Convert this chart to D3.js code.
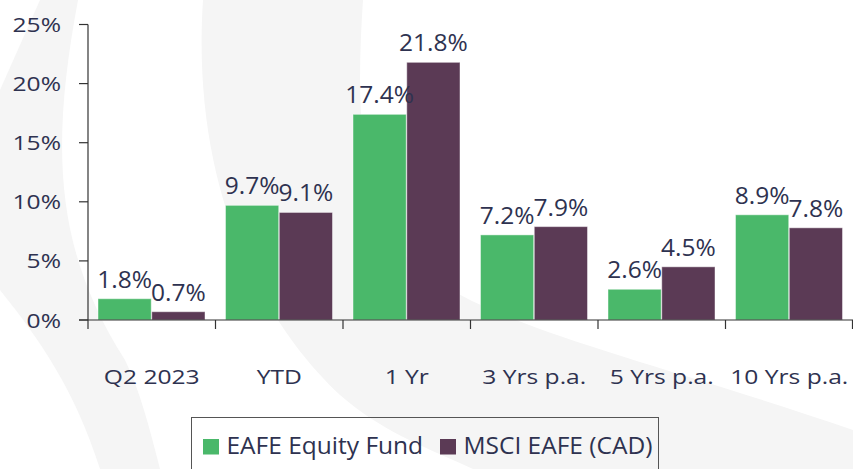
<!DOCTYPE html>
<html>
<head>
<meta charset="utf-8">
<script src="https://cdn.jsdelivr.net/npm/d3@7"></script>
<style>
  html, body { margin: 0; padding: 0; background: #fff; }
  svg { display: block; font-family: "Open Sans", "Noto Sans", sans-serif; }
</style>
</head>
<body>
<div id="chart"></div>
<script>
var categories = ["Q2 2023", "YTD", "1 Yr", "3 Yrs p.a.", "5 Yrs p.a.", "10 Yrs p.a."];
var fundValues = [1.8, 9.7, 17.4, 7.2, 2.6, 8.9];
var indexValues = [0.7, 9.1, 21.8, 7.9, 4.5, 7.8];
var seriesNames = ["EAFE Equity Fund", "MSCI EAFE (CAD)"];
var yTickValues = [0, 5, 10, 15, 20, 25];

var colors = ["#4ab86a", "#5b3a55"];
var textColor = "#2e3250";
var W = 853, H = 469;

var svg = d3.select("#chart").append("svg")
    .attr("width", W)
    .attr("height", H);

// faint watermark arcs in the background
var bg = svg.append("g").attr("fill", "#f5f5f5");
bg.append("path")
    .attr("d", "M40,0 L78,0 C50,150 55,250 125,360 C140,390 150,430 160,469 L100,469 C75,390 40,340 0,290 L0,90 Z");
bg.append("path")
    .attr("d", "M203,0 L363,0 C355,120 360,220 420,270 C500,330 650,360 853,430 L853,469 L473,469 C420,445 380,430 340,395 C270,330 190,200 203,0 Z");

var x = d3.scaleBand()
    .domain(categories)
    .range([88, 853])
    .padding(0);

var xInner = d3.scaleBand()
    .domain(seriesNames)
    .range([10, 117])
    .paddingInner(0.01);

var y = d3.scaleLinear()
    .domain([0, 25])
    .range([320, 24.5]);

var rows = categories.map(function(c, i) {
    return { cat: c, values: [fundValues[i], indexValues[i]] };
});

// bars
var groups = svg.selectAll(".group")
    .data(rows)
    .enter().append("g")
    .attr("class", "group")
    .attr("transform", function(d) { return "translate(" + x(d.cat) + ",0)"; });

groups.selectAll("rect")
    .data(function(d) { return d.values.map(function(v, j) { return { name: seriesNames[j], value: v, j: j }; }); })
    .enter().append("rect")
    .attr("x", function(d) { return xInner(d.name); })
    .attr("y", function(d) { return y(d.value); })
    .attr("width", xInner.bandwidth())
    .attr("height", function(d) { return y(0) - y(d.value); })
    .attr("fill", function(d) { return colors[d.j]; })
    .attr("stroke", "rgba(255,255,255,0.45)")
    .attr("stroke-width", 1);

// value labels
groups.selectAll("text.val")
    .data(function(d) { return d.values.map(function(v, j) { return { name: seriesNames[j], value: v }; }); })
    .enter().append("text")
    .attr("class", "val")
    .attr("x", function(d) { return xInner(d.name) + xInner.bandwidth() / 2; })
    .attr("y", function(d) { return y(d.value) - 11; })
    .attr("text-anchor", "middle")
    .style("font-size", "24.5px")
    .style("fill", textColor)
    .text(function(d) { return d.value.toFixed(1) + "%"; });

// axes
var axisColor = "#333";
svg.append("line")
    .attr("x1", 88).attr("x2", 88)
    .attr("y1", y(25)).attr("y2", y(0))
    .attr("stroke", axisColor).attr("stroke-width", 1.2);
svg.append("line")
    .attr("x1", 79).attr("x2", W)
    .attr("y1", y(0)).attr("y2", y(0))
    .attr("stroke", axisColor).attr("stroke-width", 1.2);

svg.selectAll(".ytick")
    .data(yTickValues)
    .enter().append("line")
    .attr("x1", 79).attr("x2", 88)
    .attr("y1", function(d) { return y(d); })
    .attr("y2", function(d) { return y(d); })
    .attr("stroke", axisColor).attr("stroke-width", 1.2);

svg.selectAll(".ylabel")
    .data(yTickValues)
    .enter().append("text")
    .attr("transform", function(d) { return "translate(61," + (y(d) + 7.5) + ") scale(1.2,1)"; })
    .attr("text-anchor", "end")
    .style("font-size", "20.5px")
    .style("fill", textColor)
    .text(function(d) { return d + "%"; });

var boundaries = categories.map(function(c) { return x(c); }).concat([x.range()[1] - 0.5]);
svg.selectAll(".xtick")
    .data(boundaries)
    .enter().append("line")
    .attr("x1", function(d) { return d; })
    .attr("x2", function(d) { return d; })
    .attr("y1", y(0)).attr("y2", y(0) + 9)
    .attr("stroke", axisColor).attr("stroke-width", 1.2);

svg.selectAll(".xlabel")
    .data(categories)
    .enter().append("text")
    .attr("transform", function(d) { return "translate(" + (x(d) + x.bandwidth() / 2) + ",384) scale(1.2,1)"; })
    .attr("text-anchor", "middle")
    .style("font-size", "20.5px")
    .style("fill", textColor)
    .text(function(d) { return d; });

// legend
var legend = svg.append("g");
legend.append("rect")
    .attr("x", 191.5).attr("y", 417.5)
    .attr("width", 467).attr("height", 70)
    .attr("fill", "none")
    .attr("stroke", "#555").attr("stroke-width", 1);

var legendX = [203, 440];
seriesNames.forEach(function(name, i) {
    legend.append("rect")
        .attr("x", legendX[i]).attr("y", 439)
        .attr("width", 16).attr("height", 15.5)
        .attr("fill", colors[i]);
    legend.append("text")
        .attr("x", legendX[i] + 23.5).attr("y", 454)
        .style("font-size", "24.5px")
        .style("fill", textColor)
        .text(name);
});
</script>
</body>
</html>
